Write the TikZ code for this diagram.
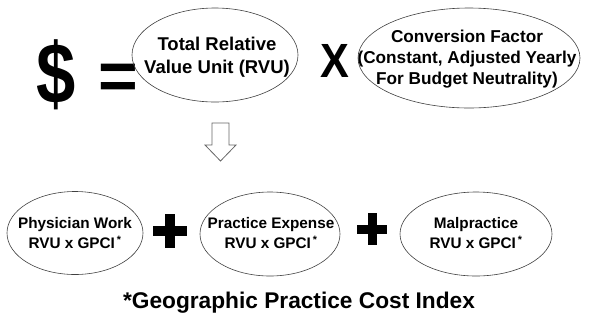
\documentclass[tikz,border=0pt]{standalone}
\usepackage{fontspec}
\setmainfont{Liberation Sans}
\usetikzlibrary{shapes.geometric}
\tikzset{
  oval/.style={ellipse, draw=black!75, line width=0.6pt, inner sep=0pt},
  lbl/.style={align=center, inner sep=0pt},
  big/.style={font=\bfseries, inner sep=0pt},
  plusbar/.style={fill=black},
}
\newcommand{\gst}{\textsuperscript{\,*}}
\begin{document}
\begin{tikzpicture}[x=1pt,y=-1pt]
\useasboundingbox (0,0) rectangle (591,322);
% top row
\node[big, font=\bfseries\fontsize{86}{86}\selectfont, xscale=0.82] (dollar) at (56.5,75) {\$};
\node[big, font=\bfseries\fontsize{68}{68}\selectfont] (eq) at (118.5,82) {=};
\node[oval, minimum width=166pt, minimum height=94pt] (rvu) at (215,55) {};
\node[lbl, font=\bfseries\fontsize{18.5}{23}\selectfont] (rvutext) at (217,57) {Total Relative\\Value Unit (RVU)};
\node[big, font=\bfseries\fontsize{48}{48}\selectfont, xscale=0.9] (times) at (335,61) {X};
\node[oval, minimum width=222pt, minimum height=100pt] (cf) at (469,58) {};
\node[lbl, font=\bfseries\fontsize{17.2}{21}\selectfont] (cftext) at (467,59) {Conversion Factor\\(Constant, Adjusted Yearly\\For Budget Neutrality)};
% down arrow
\draw[black!60, line width=0.8pt] (212,123) -- (229,123) -- (229,145) -- (236,145) -- (220.5,161) -- (205,145) -- (212,145) -- cycle;
% bottom row
\node[oval, minimum width=136pt, minimum height=83pt] (pw) at (75,233) {};
\node[lbl, font=\bfseries\fontsize{15.3}{20}\selectfont] (pwtext) at (75,233) {Physician Work\\RVU x GPCI\gst};
\node[oval, minimum width=140pt, minimum height=84pt] (pe) at (270,234) {};
\node[lbl, font=\bfseries\fontsize{15.3}{20}\selectfont] (petext) at (271,233) {Practice Expense\\RVU x GPCI\gst};
\node[oval, minimum width=152pt, minimum height=84pt] (mp) at (476,234) {};
\node[lbl, font=\bfseries\fontsize{15.3}{20}\selectfont] (mptext) at (476,233) {Malpractice\\RVU x GPCI\gst};
% plus signs
\fill[plusbar] (153,226) rectangle (187,236);
\fill[plusbar] (165,214) rectangle (175,248);
\fill[plusbar] (357,224.5) rectangle (387,234);
\fill[plusbar] (367.5,213) rectangle (376.5,245);
% footer
\node[big, font=\bfseries\fontsize{22.7}{26}\selectfont] (note) at (299,303) {*Geographic Practice Cost Index};
\end{tikzpicture}
\end{document}
